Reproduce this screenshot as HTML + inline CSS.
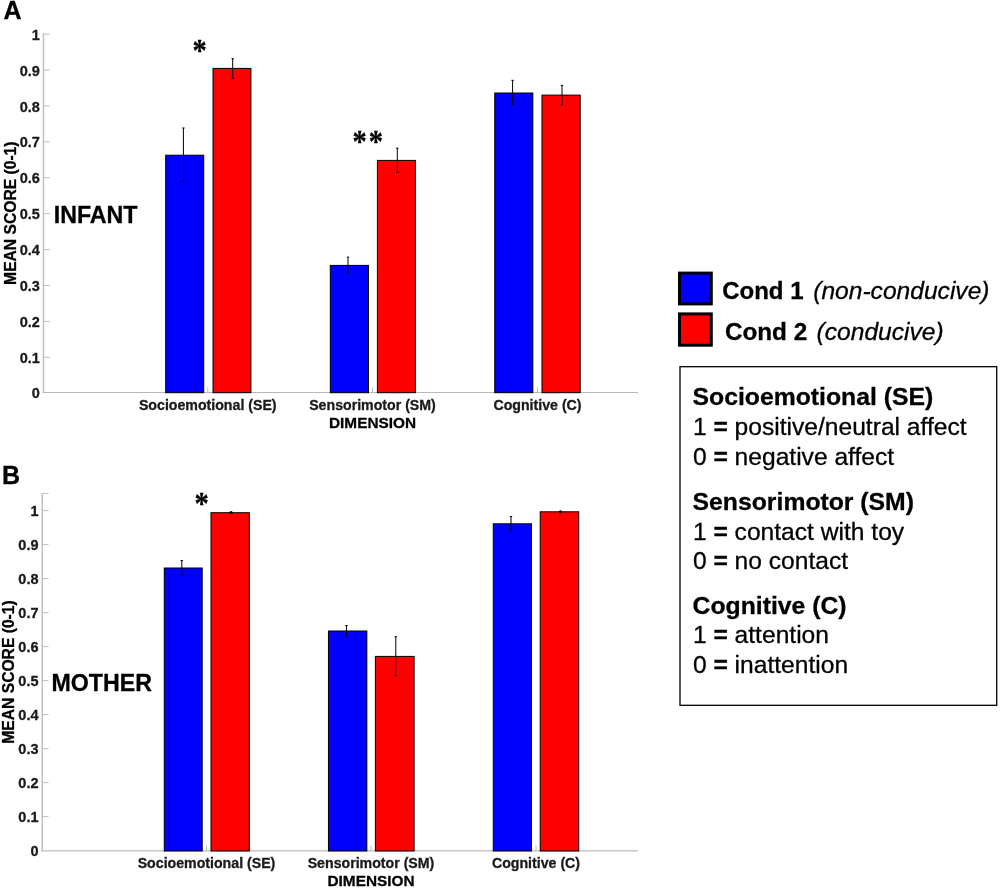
<!DOCTYPE html>
<html lang="en"><head><meta charset="utf-8"><title>Figure</title>
<style>html,body{margin:0;padding:0;background:#fff}body{width:1000px;height:890px;overflow:hidden}svg{display:block}text{font-family:"Liberation Sans", sans-serif;fill:#000;stroke:#000;stroke-width:.3px;stroke-linejoin:round}.b{font-weight:bold}.i{font-style:italic}.t{font-weight:bold;font-size:14.5px;fill:#1a1a1a;stroke:#1a1a1a}.x{font-weight:bold;font-size:14.16px;fill:#1a1a1a;stroke:#1a1a1a}</style></head><body>
<svg width="1000" height="890" viewBox="0 0 1000 890">
<rect width="1000" height="890" fill="#fff"/>
<path d="M43.50 33.60V393.05" fill="none" stroke="#c0c0c0" stroke-width="1.5"/>
<path d="M42.75 392.50H638.00" fill="none" stroke="#b8b8b8" stroke-width="1.10"/>
<path d="M43.50 357.29h6.3M43.50 321.38h6.3M43.50 285.47h6.3M43.50 249.56h6.3M43.50 213.65h6.3M43.50 177.74h6.3M43.50 141.83h6.3M43.50 105.92h6.3M43.50 70.01h6.3M43.50 34.10h6.3M207.75 392.30v-5M372.50 392.30v-5M537.50 392.30v-5" fill="none" stroke="#bcbcbc" stroke-width="1"/>
<rect x="165.70" y="155.20" width="38.00" height="237.50" fill="#0000ff" stroke="#000" stroke-width="1"/>
<rect x="213.00" y="68.40" width="37.90" height="324.30" fill="#ff0000" stroke="#000" stroke-width="1"/>
<rect x="330.30" y="265.40" width="38.20" height="127.30" fill="#0000ff" stroke="#000" stroke-width="1"/>
<rect x="377.40" y="160.40" width="38.00" height="232.30" fill="#ff0000" stroke="#000" stroke-width="1"/>
<rect x="494.75" y="93.00" width="38.10" height="299.70" fill="#0000ff" stroke="#000" stroke-width="1"/>
<rect x="542.00" y="95.10" width="38.20" height="297.60" fill="#ff0000" stroke="#000" stroke-width="1"/>
<path d="M183.40 128.00V182.00M182.20 128.00h2.4M182.20 182.00h2.4" fill="none" stroke="#000" stroke-width="1"/>
<path d="M232.70 58.70V78.30M231.50 58.70h2.4M231.50 78.30h2.4" fill="none" stroke="#000" stroke-width="1"/>
<path d="M348.00 257.20V273.20M346.80 257.20h2.4M346.80 273.20h2.4" fill="none" stroke="#000" stroke-width="1"/>
<path d="M397.30 148.20V172.50M396.10 148.20h2.4M396.10 172.50h2.4" fill="none" stroke="#000" stroke-width="1"/>
<path d="M512.60 80.30V104.70M511.40 80.30h2.4M511.40 104.70h2.4" fill="none" stroke="#000" stroke-width="1"/>
<path d="M562.00 85.40V104.70M560.80 85.40h2.4M560.80 104.70h2.4" fill="none" stroke="#000" stroke-width="1"/>
<text class="t" x="39.80" y="398.00" text-anchor="end">0</text>
<text class="t" x="39.80" y="362.89" text-anchor="end">0.1</text>
<text class="t" x="39.80" y="326.98" text-anchor="end">0.2</text>
<text class="t" x="39.80" y="291.07" text-anchor="end">0.3</text>
<text class="t" x="39.80" y="255.16" text-anchor="end">0.4</text>
<text class="t" x="39.80" y="219.25" text-anchor="end">0.5</text>
<text class="t" x="39.80" y="183.34" text-anchor="end">0.6</text>
<text class="t" x="39.80" y="147.43" text-anchor="end">0.7</text>
<text class="t" x="39.80" y="111.52" text-anchor="end">0.8</text>
<text class="t" x="39.80" y="75.61" text-anchor="end">0.9</text>
<text class="t" x="39.80" y="39.70" text-anchor="end">1</text>
<text class="x" x="207.75" y="410.00" text-anchor="middle">Socioemotional (SE)</text>
<text class="x" x="372.50" y="410.00" text-anchor="middle">Sensorimotor (SM)</text>
<text class="x" x="537.50" y="410.00" text-anchor="middle">Cognitive (C)</text>
<text class="b" x="372.50" y="428.00" text-anchor="middle" font-size="15.35" fill="#1a1a1a">DIMENSION</text>
<text class="b" transform="translate(15.70 213.20) rotate(-90)" text-anchor="middle" font-size="15.65" fill="#1a1a1a">MEAN SCORE (0-1)</text>
<path d="M42.20 492.90V851.55" fill="none" stroke="#c0c0c0" stroke-width="1.5"/>
<path d="M41.45 850.80H638.00" fill="none" stroke="#c6c6c6" stroke-width="1.50"/>
<path d="M42.20 816.60h6.3M42.20 782.60h6.3M42.20 748.60h6.3M42.20 714.60h6.3M42.20 680.60h6.3M42.20 646.60h6.3M42.20 612.60h6.3M42.20 578.60h6.3M42.20 544.60h6.3M42.20 510.60h6.3M42.20 493.40h6.3M206.50 850.60v-5M371.00 850.60v-5M536.00 850.60v-5" fill="none" stroke="#bcbcbc" stroke-width="1"/>
<rect x="164.25" y="568.00" width="37.95" height="283.00" fill="#0000ff" stroke="#000" stroke-width="1"/>
<rect x="211.00" y="512.70" width="38.30" height="338.30" fill="#ff0000" stroke="#000" stroke-width="1"/>
<rect x="328.45" y="631.00" width="38.40" height="220.00" fill="#0000ff" stroke="#000" stroke-width="1"/>
<rect x="375.40" y="656.40" width="38.70" height="194.60" fill="#ff0000" stroke="#000" stroke-width="1"/>
<rect x="493.25" y="523.80" width="38.25" height="327.20" fill="#0000ff" stroke="#000" stroke-width="1"/>
<rect x="540.20" y="511.80" width="38.55" height="339.20" fill="#ff0000" stroke="#000" stroke-width="1"/>
<path d="M181.80 560.50V575.20M180.60 560.50h2.4M180.60 575.20h2.4" fill="none" stroke="#000" stroke-width="1"/>
<circle cx="231.10" cy="512.70" r="1.6" fill="#000"/>
<path d="M346.45 625.50V636.00M345.25 625.50h2.4M345.25 636.00h2.4" fill="none" stroke="#000" stroke-width="1"/>
<path d="M395.80 636.75V675.75M394.60 636.75h2.4M394.60 675.75h2.4" fill="none" stroke="#000" stroke-width="1"/>
<path d="M511.00 516.50V530.25M509.80 516.50h2.4M509.80 530.25h2.4" fill="none" stroke="#000" stroke-width="1"/>
<circle cx="560.50" cy="511.80" r="1.6" fill="#000"/>
<text class="t" x="38.50" y="856.30" text-anchor="end">0</text>
<text class="t" x="38.50" y="822.20" text-anchor="end">0.1</text>
<text class="t" x="38.50" y="788.20" text-anchor="end">0.2</text>
<text class="t" x="38.50" y="754.20" text-anchor="end">0.3</text>
<text class="t" x="38.50" y="720.20" text-anchor="end">0.4</text>
<text class="t" x="38.50" y="686.20" text-anchor="end">0.5</text>
<text class="t" x="38.50" y="652.20" text-anchor="end">0.6</text>
<text class="t" x="38.50" y="618.20" text-anchor="end">0.7</text>
<text class="t" x="38.50" y="584.20" text-anchor="end">0.8</text>
<text class="t" x="38.50" y="550.20" text-anchor="end">0.9</text>
<text class="t" x="38.50" y="516.20" text-anchor="end">1</text>
<text class="x" x="206.50" y="868.00" text-anchor="middle">Socioemotional (SE)</text>
<text class="x" x="371.00" y="868.00" text-anchor="middle">Sensorimotor (SM)</text>
<text class="x" x="536.00" y="868.00" text-anchor="middle">Cognitive (C)</text>
<text class="b" x="371.00" y="885.70" text-anchor="middle" font-size="15.35" fill="#1a1a1a">DIMENSION</text>
<text class="b" transform="translate(13.75 672.00) rotate(-90)" text-anchor="middle" font-size="15.65" fill="#1a1a1a">MEAN SCORE (0-1)</text>
<text class="b" x="3.4" y="18.9" font-size="25">A</text>
<text class="b" x="2" y="483.9" font-size="25">B</text>
<text class="b" x="53.8" y="223" font-size="23.2">INFANT</text>
<text class="b" x="51.5" y="690.8" font-size="23.2">MOTHER</text>
<text transform="translate(199.70 46.10) scale(1.000 1.100)" x="-7.12" y="13.82" font-size="28.5" font-weight="bold" stroke="#000" stroke-width="0.2" stroke-linejoin="round" style="font-family:'Liberation Serif',serif">*</text>
<text transform="translate(359.60 137.10) scale(1.000 1.100)" x="-7.12" y="13.82" font-size="28.5" font-weight="bold" stroke="#000" stroke-width="0.2" stroke-linejoin="round" style="font-family:'Liberation Serif',serif">*</text>
<text transform="translate(375.75 137.10) scale(1.000 1.100)" x="-7.12" y="13.82" font-size="28.5" font-weight="bold" stroke="#000" stroke-width="0.2" stroke-linejoin="round" style="font-family:'Liberation Serif',serif">*</text>
<text transform="translate(201.60 499.10) scale(1.000 1.100)" x="-7.12" y="13.82" font-size="28.5" font-weight="bold" stroke="#000" stroke-width="0.2" stroke-linejoin="round" style="font-family:'Liberation Serif',serif">*</text>
<rect x="679.5" y="273.1" width="31.8" height="30.8" fill="#0000ff" stroke="#000" stroke-width="3"/>
<rect x="679.5" y="313.9" width="31.8" height="31.3" fill="#ff0000" stroke="#000" stroke-width="3"/>
<text class="b" x="722.2" y="298.6" font-size="24">Cond 1</text>
<text class="i" x="813.2" y="298.6" font-size="24.6">(non-conducive)</text>
<text class="b" x="724.9" y="339.7" font-size="24.3">Cond 2</text>
<text class="i" x="816.6" y="339.7" font-size="24.6">(conducive)</text>
<rect x="680" y="366.7" width="316.7" height="338.6" fill="#fff" stroke="#000" stroke-width="1.3"/>
<text x="692.6" y="405.4" font-size="24.75" class="b">Socioemotional (SE)</text>
<text x="692.9" y="435.0" font-size="24.6">1 <tspan class="b">=</tspan> positive/neutral affect</text>
<text x="692.9" y="464.7" font-size="24.6">0 <tspan class="b">=</tspan> negative affect</text>
<text x="692.6" y="509.8" font-size="24.75" class="b">Sensorimotor (SM)</text>
<text x="692.9" y="539.7" font-size="24.6">1 <tspan class="b">=</tspan> contact with toy</text>
<text x="692.9" y="569.4" font-size="24.6">0 <tspan class="b">=</tspan> no contact</text>
<text x="692.6" y="613.5" font-size="24.75" class="b">Cognitive (C)</text>
<text x="692.9" y="643.4" font-size="24.6">1 <tspan class="b">=</tspan> attention</text>
<text x="692.9" y="672.7" font-size="24.6">0 <tspan class="b">=</tspan> inattention</text>
</svg></body></html>
